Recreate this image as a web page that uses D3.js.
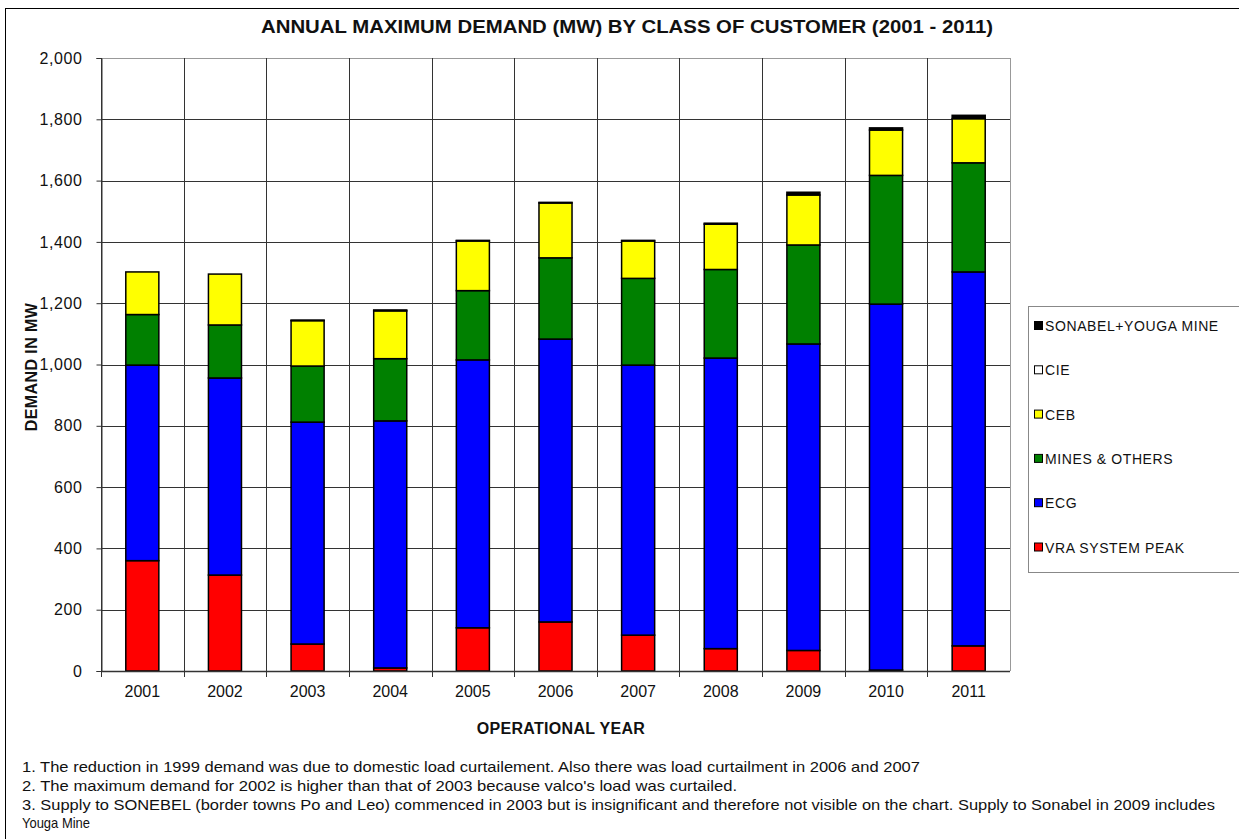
<!doctype html>
<html>
<head>
<meta charset="utf-8">
<title>Annual Maximum Demand</title>
<script src="https://d3js.org/d3.v7.min.js"></script>
<style>
  body { margin: 0; background: #fff; }
  svg { font-family: "Liberation Sans", Arial, sans-serif; }
</style>
</head>
<body>
<svg width="1239" height="839"></svg>
<script>
// data (MW)
var years = ["2001","2002","2003","2004","2005","2006","2007","2008","2009","2010","2011"];
var vraPeak  = [360, 313,  88,  10, 141, 160, 117,  73,   67,    3,   82];
var ecg      = [638, 643, 724, 806, 874, 923, 881, 948, 1000, 1194, 1220];
var mines    = [165, 173, 183, 203, 226, 265, 283, 289,  323,  420,  356];
var ceb      = [139, 166, 148, 156, 162, 179, 122, 148,  163,  148,  144];
var cie      = [  0,   0,   0,   0,   0,   0,   0,   0,    0,    0,    0];
var sonabel  = [  0,   0,   2,   3,   2,   2,   2,   3,    9,    7,   11];
var yTicks   = [0, 200, 400, 600, 800, 1000, 1200, 1400, 1600, 1800, 2000];

var seriesNames  = ["VRA SYSTEM PEAK", "ECG", "MINES & OTHERS", "CEB", "CIE", "SONABEL+YOUGA MINE"];
var seriesValues = [vraPeak, ecg, mines, ceb, cie, sonabel];
var seriesColors = ["#ff0000", "#0000ff", "#008000", "#ffff00", "#ffffff", "#000000"];

var notes = [
  "1.  The reduction in 1999 demand was due to domestic load curtailement. Also there was load curtailment in 2006 and 2007",
  "2. The maximum demand for 2002 is higher than that of 2003 because valco's load was curtailed.",
  "3. Supply to SONEBEL (border towns Po and Leo) commenced in 2003 but is insignificant and therefore not visible on the chart. Supply to Sonabel in 2009 includes",
  "Youga Mine"
];
var noteWidths = [898, 715, 1193, 68];

var svg = d3.select("svg");

// outer frame
svg.append("rect").attr("x", 5.5).attr("y", 8.5).attr("width", 1240).attr("height", 840)
   .attr("fill", "none").attr("stroke", "#000").attr("stroke-width", 1);

var plotLeft = 101, plotRight = 1010, plotTop = 58, plotBottom = 671;

var x = d3.scaleBand().domain(years).range([plotLeft, plotRight]).padding(0);
var y = d3.scaleLinear().domain([0, 2000]).range([plotBottom, plotTop]);

// horizontal grid
svg.append("g").selectAll("line").data(yTicks).enter().append("line")
   .attr("x1", plotLeft).attr("x2", plotRight)
   .attr("y1", function(d) { return Math.round(y(d)) + 0.5; })
   .attr("y2", function(d) { return Math.round(y(d)) + 0.5; })
   .attr("stroke", function(d) { return d == 2000 ? "#999" : "#333"; })
   .attr("stroke-width", 1);

// vertical grid at category boundaries
var bounds = years.map(function(d) { return x(d); }).concat([plotRight]);
svg.append("g").selectAll("line").data(bounds).enter().append("line")
   .attr("x1", function(d) { return Math.round(d) + 0.5; })
   .attr("x2", function(d) { return Math.round(d) + 0.5; })
   .attr("y1", plotTop).attr("y2", function(d, i) { return i == bounds.length - 1 ? plotBottom : plotBottom + 6; })
   .attr("stroke", function(d, i) { return i == bounds.length - 1 ? "#999" : "#333"; })
   .attr("stroke-width", 1);

// y axis
var yAxis = svg.append("g")
   .attr("transform", "translate(" + (plotLeft + 0.5) + ",0)")
   .call(d3.axisLeft(y).tickValues(yTicks).tickSize(5).tickPadding(14).tickFormat(d3.format(",")));
yAxis.select(".domain").attr("stroke", "#333");
yAxis.selectAll(".tick line").attr("stroke", "#333");
yAxis.selectAll("text").attr("font-size", 16).attr("fill", "#111")
   .attr("font-family", "Liberation Sans, Arial").attr("letter-spacing", 0.6);

// x labels
svg.append("g").selectAll("text").data(years).enter().append("text")
   .attr("x", function(d) { return x(d) + x.bandwidth() / 2; })
   .attr("y", 697)
   .attr("text-anchor", "middle")
   .attr("font-size", 16).attr("fill", "#111")
   .text(function(d) { return d; });

// stacked bars
var table = years.map(function(yr, i) {
  var row = { year: yr };
  seriesNames.forEach(function(n, k) { row[n] = seriesValues[k][i]; });
  return row;
});
var stack = d3.stack().keys(seriesNames)(table);
var barW = x.bandwidth() * 0.4;

svg.append("g").selectAll("g").data(stack).enter().append("g")
   .attr("fill", function(d, i) { return seriesColors[i]; })
   .selectAll("rect").data(function(d) { return d; }).enter().append("rect")
   .attr("x", function(d) { return x(d.data.year) + (x.bandwidth() - barW) / 2; })
   .attr("width", barW)
   .attr("y", function(d) { return y(d[1]); })
   .attr("height", function(d) { return y(d[0]) - y(d[1]); })
   .attr("stroke", "#000").attr("stroke-width", 1.5);

// x axis baseline
svg.append("line").attr("x1", plotLeft).attr("x2", plotRight)
   .attr("y1", plotBottom + 0.5).attr("y2", plotBottom + 0.5)
   .attr("stroke", "#333").attr("stroke-width", 1.5);

// titles
svg.append("text").attr("x", 627).attr("y", 33).attr("text-anchor", "middle")
   .attr("font-size", 19).attr("font-weight", "bold").attr("fill", "#111")
   .attr("textLength", 732).attr("lengthAdjust", "spacingAndGlyphs")
   .text("ANNUAL MAXIMUM DEMAND (MW) BY CLASS OF CUSTOMER (2001 - 2011)");

svg.append("text").attr("transform", "translate(37,367) rotate(-90)")
   .attr("text-anchor", "middle").attr("font-size", 16).attr("font-weight", "bold").attr("fill", "#111")
   .attr("letter-spacing", 0.4)
   .text("DEMAND  IN  MW");

svg.append("text").attr("x", 561).attr("y", 734).attr("text-anchor", "middle")
   .attr("font-size", 16).attr("font-weight", "bold").attr("fill", "#111")
   .attr("letter-spacing", 0.3)
   .text("OPERATIONAL  YEAR");

// legend
var lg = svg.append("g");
lg.append("rect").attr("x", 1028.5).attr("y", 306.5).attr("width", 220).attr("height", 266)
  .attr("fill", "#fff").attr("stroke", "#888");
var legendOrder = seriesNames.map(function(n, i) { return i; }).reverse();
var li = lg.selectAll("g").data(legendOrder).enter().append("g")
  .attr("transform", function(d, j) { return "translate(1034," + (327 + j * 44.3) + ")"; });
li.append("rect").attr("x", 0.5).attr("y", -5.5).attr("width", 8).attr("height", 8)
  .attr("fill", function(d) { return seriesColors[d]; }).attr("stroke", "#000").attr("stroke-width", 1);
li.append("text").attr("x", 11).attr("y", 4).attr("font-size", 14).attr("fill", "#111")
  .attr("letter-spacing", 0.6)
  .text(function(d) { return seriesNames[d]; });

// notes
svg.append("g").selectAll("text").data(notes).enter().append("text")
   .attr("x", 22).attr("y", function(d, i) { return 772 + i * 18.8; })
   .attr("font-size", 15).attr("fill", "#111")
   .attr("textLength", function(d, i) { return noteWidths[i]; })
   .attr("lengthAdjust", "spacingAndGlyphs")
   .text(function(d) { return d; });
</script>
</body>
</html>
